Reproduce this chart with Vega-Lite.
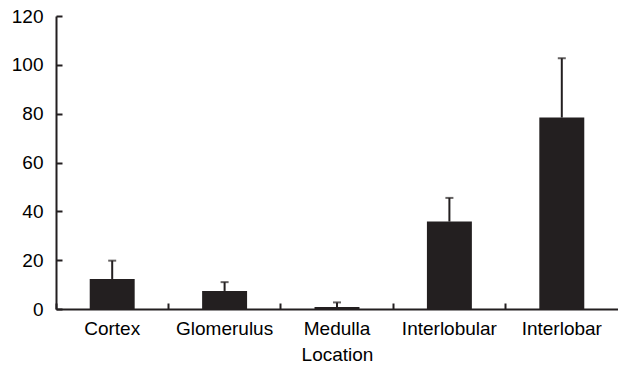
{
  "$schema": "https://vega.github.io/schema/vega-lite/v6.json",
  "width": 562,
  "height": 293,
  "autosize": {"type": "none"},
  "padding": {"left": 56, "top": 16, "right": 0, "bottom": 61},
  "background": "white",
  "config": {
    "view": {"stroke": null},
    "font": "Liberation Sans",
    "axis": {"grid": false, "domainColor": "#231f20", "domainWidth": 2, "tickColor": "#231f20", "tickWidth": 2, "labelColor": "#000000", "titleColor": "#000000", "labelFont": "Liberation Sans", "titleFont": "Liberation Sans", "labelFontSize": 19, "titleFontSize": 19, "titleFontWeight": "normal"}
  },
  "data": {
    "values": [
      {"location": "Cortex", "mean": 12.3, "upper": 19.8},
      {"location": "Glomerulus", "mean": 7.4, "upper": 11.0},
      {"location": "Medulla", "mean": 0.8, "upper": 2.7},
      {"location": "Interlobular", "mean": 35.8, "upper": 45.5},
      {"location": "Interlobar", "mean": 78.4, "upper": 102.7}
    ]
  },
  "encoding": {
    "x": {
      "field": "location", "type": "nominal", "sort": null,
      "scale": {"paddingInner": 0, "paddingOuter": 0},
      "axis": {"title": "Location", "labelAngle": 0, "bandPosition": 0, "tickSize": -6, "labelPadding": 16, "titlePadding": 7}
    }
  },
  "layer": [
    {
      "mark": {"type": "bar", "color": "#231f20", "width": {"band": 0.4}},
      "encoding": {
        "y": {"field": "mean", "type": "quantitative", "scale": {"domain": [0, 120]},
          "axis": {"title": null, "values": [0, 20, 40, 60, 80, 100, 120], "tickSize": -6, "labelPadding": 19}}
      }
    },
    {
      "mark": {"type": "rule", "color": "#231f20", "strokeWidth": 2},
      "encoding": {
        "y": {"field": "mean", "type": "quantitative"},
        "y2": {"field": "upper"}
      }
    },
    {
      "mark": {"type": "tick", "color": "#231f20", "thickness": 2, "size": 8},
      "encoding": {
        "y": {"field": "upper", "type": "quantitative"}
      }
    }
  ]
}
